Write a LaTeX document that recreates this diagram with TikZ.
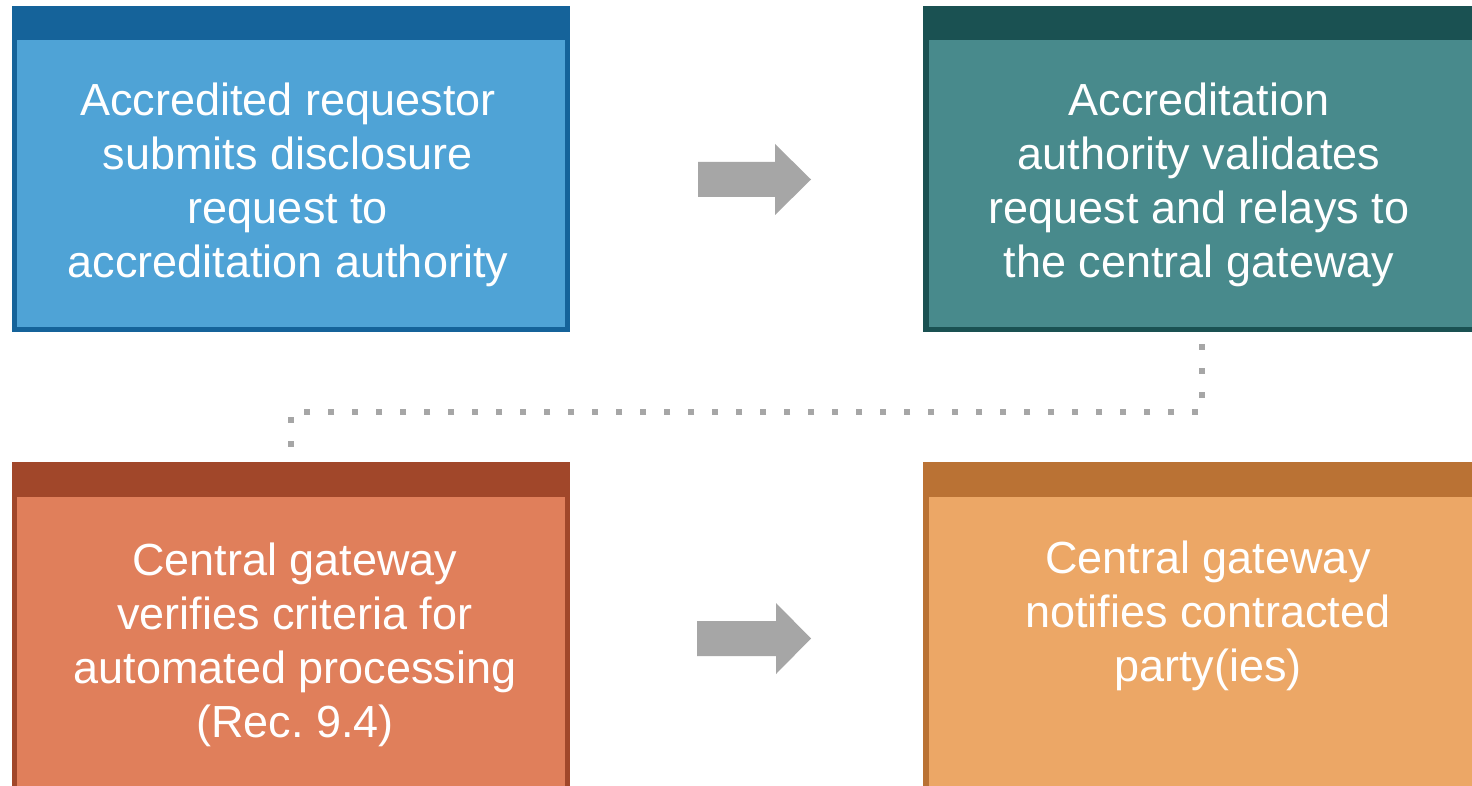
\documentclass[tikz,border=0pt]{standalone}
\usepackage{fontspec}
\setmainfont{Liberation Sans}
\definecolor{bluedark}{HTML}{15639A}
\definecolor{bluelight}{HTML}{4FA3D6}
\definecolor{tealdark}{HTML}{1A5152}
\definecolor{teallight}{HTML}{488A8C}
\definecolor{reddark}{HTML}{A1472A}
\definecolor{redlight}{HTML}{E07F5B}
\definecolor{orangedark}{HTML}{BA7234}
\definecolor{orangelight}{HTML}{ECA766}
\definecolor{arrowgray}{HTML}{A6A6A6}
\begin{document}
\begin{tikzpicture}[x=0.5pt,y=-0.5pt,
  box/.style={draw=none, minimum width=279pt, minimum height=163pt, inner sep=0pt, outer sep=0pt, anchor=north west},
  lowbox/.style={box, minimum height=175pt},
  txt/.style={text=white, font=\fontsize{22.5}{27}\selectfont, align=center, inner sep=0pt, anchor=north},
  dotline/.style={draw=arrowgray, line width=3pt, dash pattern=on 3pt off 9pt, shorten <=6pt, shorten >=6pt},
  blockarrow/.style={fill=arrowgray}]
\path[use as bounding box, clip] (0,0) rectangle (1472,786);
\fill[white] (0,0) rectangle (1472,786);

% boxes
\node[box, fill=bluedark] (a) at (12,6) {};
\fill[bluelight] ([shift={(4.5,34)}]a.north west) rectangle ([shift={(-5,-5)}]a.south east);
\node[box, fill=tealdark] (b) at (923,6) {};
\fill[teallight] ([shift={(5.5,34)}]b.north west) rectangle ([shift={(-5,-5)}]b.south east);
\node[lowbox, fill=reddark] (c) at (12,462) {};
\fill[redlight] ([shift={(4.5,35)}]c.north west) rectangle ([shift={(-5,-5)}]c.south east);
\node[lowbox, fill=orangedark] (d) at (923,462) {};
\fill[orangelight] ([shift={(5.5,35)}]d.north west) rectangle ([shift={(-5,-5)}]d.south east);

% texts
\node[txt] (ta) at (288,82) {Accredited requestor\\submits disclosure\\request to\\accreditation authority};
\node[txt] (tb) at (1199,82) {Accreditation\\authority validates\\request and relays to\\the central gateway};
\node[txt] (tc) at (295,542) {Central gateway\\verifies criteria for\\automated processing\\(Rec.\ 9.4)};
\node[txt] (td) at (1208,540) {Central gateway\\notifies contracted\\party(ies)};

% block arrows
\fill[blockarrow] (698,162) -- (775,162) -- (775,144) -- (811,179.5) -- (775,215) -- (775,197) -- (698,197) -- cycle;
\fill[blockarrow] (697,621) -- (776,621) -- (776,603) -- (811,638.5) -- (776,674) -- (776,656) -- (697,656) -- cycle;

% dotted connector
\draw[dotline] (b.south) -- ++(0,80) -| (c.north);
\end{tikzpicture}
\end{document}
